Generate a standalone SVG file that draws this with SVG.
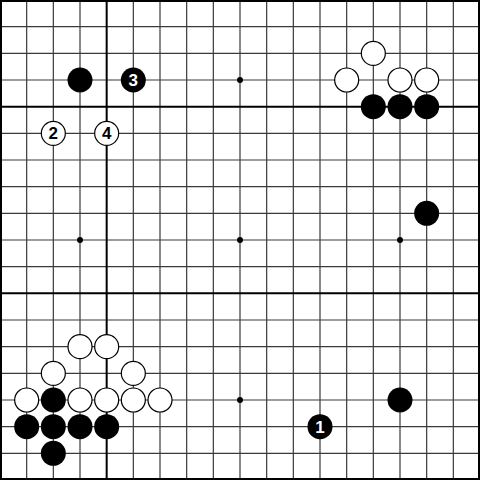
<svg xmlns="http://www.w3.org/2000/svg" width="480" height="480" viewBox="0 0 480 480">
<style>
.g{stroke:#3a3a3a;stroke-width:1.2;fill:none}
.h{stroke:#000;stroke-width:2;fill:none}
.b{fill:#000}
.w{fill:#fff;stroke:#000;stroke-width:1.2}
.star{fill:#000}
.nb{font-family:"Liberation Sans",Arial,sans-serif;font-weight:bold;font-size:17px;fill:#fff;text-anchor:middle}
.nw{font-family:"Liberation Sans",Arial,sans-serif;font-weight:bold;font-size:17px;fill:#000;text-anchor:middle}
</style>
<rect x="0" y="0" width="480" height="480" fill="#fff"/>
<g id="grid">
<path class="g" d="M26.67 0V480M53.33 0V480M80 0V480M133.33 0V480M160 0V480M186.67 0V480M213.33 0V480M240 0V480M266.67 0V480M293.33 0V480M320 0V480M346.67 0V480M373.33 0V480M400 0V480M426.67 0V480M453.33 0V480"/>
<path class="g" d="M0 26.67H480M0 53.33H480M0 80H480M0 133.33H480M0 160H480M0 186.67H480M0 213.33H480M0 240H480M0 266.67H480M0 320H480M0 346.67H480M0 373.33H480M0 400H480M0 426.67H480M0 453.33H480"/>
<path class="h" d="M106.67 0V480M0 106.67H480M0 293.33H480"/>
<rect x="1" y="1" width="478" height="478" fill="none" stroke="#000" stroke-width="2"/>
</g>
<g id="stars">
<circle class="star" cx="240" cy="80" r="3"/>
<circle class="star" cx="80" cy="240" r="3"/>
<circle class="star" cx="240" cy="240" r="3"/>
<circle class="star" cx="400" cy="240" r="3"/>
<circle class="star" cx="240" cy="400" r="3"/>
</g>
<g id="stones-black">
<circle class="b" cx="80" cy="80" r="12.5"/>
<circle class="b" cx="373.33" cy="106.67" r="12.5"/>
<circle class="b" cx="400" cy="106.67" r="12.5"/>
<circle class="b" cx="426.67" cy="106.67" r="12.5"/>
<circle class="b" cx="426.67" cy="213.33" r="12.5"/>
<circle class="b" cx="400" cy="400" r="12.5"/>
<circle class="b" cx="53.33" cy="400" r="12.5"/>
<circle class="b" cx="26.67" cy="426.67" r="12.5"/>
<circle class="b" cx="53.33" cy="426.67" r="12.5"/>
<circle class="b" cx="80" cy="426.67" r="12.5"/>
<circle class="b" cx="106.67" cy="426.67" r="12.5"/>
<circle class="b" cx="53.33" cy="453.33" r="12.5"/>
</g>
<g id="stones-white">
<circle class="w" cx="373.33" cy="53.33" r="12"/>
<circle class="w" cx="346.67" cy="80" r="12"/>
<circle class="w" cx="400" cy="80" r="12"/>
<circle class="w" cx="426.67" cy="80" r="12"/>
<circle class="w" cx="80" cy="346.67" r="12"/>
<circle class="w" cx="106.67" cy="346.67" r="12"/>
<circle class="w" cx="53.33" cy="373.33" r="12"/>
<circle class="w" cx="133.33" cy="373.33" r="12"/>
<circle class="w" cx="26.67" cy="400" r="12"/>
<circle class="w" cx="80" cy="400" r="12"/>
<circle class="w" cx="106.67" cy="400" r="12"/>
<circle class="w" cx="133.33" cy="400" r="12"/>
<circle class="w" cx="160" cy="400" r="12"/>
</g>
<g id="move1"><circle class="b" cx="320" cy="426.67" r="12.5"/><text class="nb" x="320" y="432.7">1</text></g>
<g id="move2"><circle class="w" cx="53.33" cy="133.33" r="12"/><text class="nw" x="53.33" y="139.4">2</text></g>
<g id="move3"><circle class="b" cx="133.33" cy="80" r="12.5"/><text class="nb" x="133.33" y="86">3</text></g>
<g id="move4"><circle class="w" cx="106.67" cy="133.33" r="12"/><text class="nw" x="106.67" y="139.4">4</text></g>
</svg>
